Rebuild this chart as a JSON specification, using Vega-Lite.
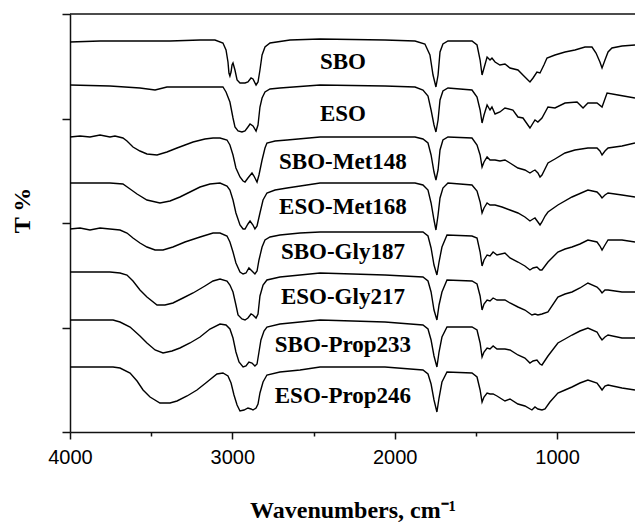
{
  "$schema": "https://vega.github.io/schema/vega-lite/v6.json",
  "width": 565,
  "height": 418,
  "autosize": {"type": "none"},
  "padding": {"left": 70, "top": 14, "right": 0, "bottom": 91},
  "background": "white",
  "config": {"view": {"stroke": null}},
  "data": {"values": [
    {"s":"SBO","w":4000,"t":390},{"s":"SBO","w":3815,"t":391},{"s":"SBO","w":3630,"t":391},{"s":"SBO","w":3384,"t":391},{"s":"SBO","w":3199,"t":392},{"s":"SBO","w":3107,"t":392},{"s":"SBO","w":3058,"t":389},{"s":"SBO","w":3039,"t":382},{"s":"SBO","w":3027,"t":370},{"s":"SBO","w":3021,"t":359},{"s":"SBO","w":3015,"t":356},{"s":"SBO","w":3008,"t":360},{"s":"SBO","w":3002,"t":367},{"s":"SBO","w":2996,"t":369},{"s":"SBO","w":2984,"t":362},{"s":"SBO","w":2971,"t":352},{"s":"SBO","w":2953,"t":349},{"s":"SBO","w":2922,"t":349},{"s":"SBO","w":2904,"t":350},{"s":"SBO","w":2885,"t":354},{"s":"SBO","w":2873,"t":353},{"s":"SBO","w":2854,"t":347},{"s":"SBO","w":2842,"t":350},{"s":"SBO","w":2830,"t":362},{"s":"SBO","w":2817,"t":377},{"s":"SBO","w":2799,"t":385},{"s":"SBO","w":2768,"t":389},{"s":"SBO","w":2645,"t":392},{"s":"SBO","w":2460,"t":393},{"s":"SBO","w":2060,"t":392},{"s":"SBO","w":1875,"t":391},{"s":"SBO","w":1814,"t":388},{"s":"SBO","w":1783,"t":377},{"s":"SBO","w":1764,"t":357},{"s":"SBO","w":1746,"t":345},{"s":"SBO","w":1733,"t":357},{"s":"SBO","w":1721,"t":380},{"s":"SBO","w":1703,"t":388},{"s":"SBO","w":1672,"t":391},{"s":"SBO","w":1524,"t":391},{"s":"SBO","w":1493,"t":387},{"s":"SBO","w":1474,"t":372},{"s":"SBO","w":1462,"t":357},{"s":"SBO","w":1450,"t":364},{"s":"SBO","w":1431,"t":375},{"s":"SBO","w":1413,"t":372},{"s":"SBO","w":1401,"t":374},{"s":"SBO","w":1382,"t":370},{"s":"SBO","w":1352,"t":367},{"s":"SBO","w":1321,"t":368},{"s":"SBO","w":1290,"t":364},{"s":"SBO","w":1241,"t":362},{"s":"SBO","w":1198,"t":355},{"s":"SBO","w":1167,"t":350},{"s":"SBO","w":1148,"t":354},{"s":"SBO","w":1124,"t":360},{"s":"SBO","w":1105,"t":359},{"s":"SBO","w":1081,"t":367},{"s":"SBO","w":1062,"t":374},{"s":"SBO","w":1013,"t":377},{"s":"SBO","w":951,"t":380},{"s":"SBO","w":890,"t":382},{"s":"SBO","w":828,"t":385},{"s":"SBO","w":785,"t":385},{"s":"SBO","w":760,"t":379},{"s":"SBO","w":736,"t":370},{"s":"SBO","w":723,"t":364},{"s":"SBO","w":705,"t":372},{"s":"SBO","w":686,"t":380},{"s":"SBO","w":662,"t":384},{"s":"SBO","w":600,"t":386},{"s":"SBO","w":520,"t":387},
    {"s":"ESO","w":4000,"t":347},{"s":"ESO","w":3754,"t":346},{"s":"ESO","w":3569,"t":344},{"s":"ESO","w":3476,"t":342},{"s":"ESO","w":3403,"t":345},{"s":"ESO","w":3199,"t":345},{"s":"ESO","w":3058,"t":345},{"s":"ESO","w":3039,"t":340},{"s":"ESO","w":3027,"t":335},{"s":"ESO","w":3015,"t":330},{"s":"ESO","w":2996,"t":314},{"s":"ESO","w":2984,"t":305},{"s":"ESO","w":2965,"t":301},{"s":"ESO","w":2941,"t":300},{"s":"ESO","w":2922,"t":301},{"s":"ESO","w":2904,"t":305},{"s":"ESO","w":2891,"t":308},{"s":"ESO","w":2873,"t":306},{"s":"ESO","w":2854,"t":301},{"s":"ESO","w":2842,"t":307},{"s":"ESO","w":2830,"t":325},{"s":"ESO","w":2817,"t":334},{"s":"ESO","w":2799,"t":340},{"s":"ESO","w":2768,"t":343},{"s":"ESO","w":2707,"t":344},{"s":"ESO","w":2460,"t":347},{"s":"ESO","w":2060,"t":346},{"s":"ESO","w":1875,"t":345},{"s":"ESO","w":1826,"t":342},{"s":"ESO","w":1795,"t":336},{"s":"ESO","w":1776,"t":322},{"s":"ESO","w":1758,"t":307},{"s":"ESO","w":1746,"t":300},{"s":"ESO","w":1733,"t":312},{"s":"ESO","w":1721,"t":332},{"s":"ESO","w":1703,"t":341},{"s":"ESO","w":1672,"t":344},{"s":"ESO","w":1524,"t":342},{"s":"ESO","w":1493,"t":335},{"s":"ESO","w":1474,"t":322},{"s":"ESO","w":1462,"t":309},{"s":"ESO","w":1450,"t":317},{"s":"ESO","w":1431,"t":327},{"s":"ESO","w":1413,"t":322},{"s":"ESO","w":1401,"t":325},{"s":"ESO","w":1382,"t":318},{"s":"ESO","w":1352,"t":320},{"s":"ESO","w":1321,"t":324},{"s":"ESO","w":1272,"t":322},{"s":"ESO","w":1241,"t":315},{"s":"ESO","w":1210,"t":314},{"s":"ESO","w":1167,"t":304},{"s":"ESO","w":1136,"t":312},{"s":"ESO","w":1118,"t":310},{"s":"ESO","w":1093,"t":314},{"s":"ESO","w":1056,"t":325},{"s":"ESO","w":1013,"t":324},{"s":"ESO","w":951,"t":329},{"s":"ESO","w":877,"t":330},{"s":"ESO","w":840,"t":324},{"s":"ESO","w":810,"t":329},{"s":"ESO","w":754,"t":329},{"s":"ESO","w":723,"t":325},{"s":"ESO","w":692,"t":339},{"s":"ESO","w":625,"t":337},{"s":"ESO","w":520,"t":334},
    {"s":"SBO-Met148","w":4000,"t":295},{"s":"SBO-Met148","w":3938,"t":296},{"s":"SBO-Met148","w":3877,"t":295},{"s":"SBO-Met148","w":3815,"t":297},{"s":"SBO-Met148","w":3754,"t":295},{"s":"SBO-Met148","w":3723,"t":296},{"s":"SBO-Met148","w":3674,"t":294},{"s":"SBO-Met148","w":3649,"t":291},{"s":"SBO-Met148","w":3612,"t":285},{"s":"SBO-Met148","w":3569,"t":281},{"s":"SBO-Met148","w":3526,"t":278},{"s":"SBO-Met148","w":3464,"t":277},{"s":"SBO-Met148","w":3403,"t":280},{"s":"SBO-Met148","w":3341,"t":284},{"s":"SBO-Met148","w":3242,"t":290},{"s":"SBO-Met148","w":3169,"t":293},{"s":"SBO-Met148","w":3119,"t":294},{"s":"SBO-Met148","w":3076,"t":294},{"s":"SBO-Met148","w":3033,"t":292},{"s":"SBO-Met148","w":3015,"t":287},{"s":"SBO-Met148","w":2996,"t":277},{"s":"SBO-Met148","w":2978,"t":264},{"s":"SBO-Met148","w":2953,"t":255},{"s":"SBO-Met148","w":2934,"t":251},{"s":"SBO-Met148","w":2922,"t":250},{"s":"SBO-Met148","w":2904,"t":254},{"s":"SBO-Met148","w":2879,"t":259},{"s":"SBO-Met148","w":2867,"t":256},{"s":"SBO-Met148","w":2848,"t":250},{"s":"SBO-Met148","w":2836,"t":257},{"s":"SBO-Met148","w":2817,"t":272},{"s":"SBO-Met148","w":2799,"t":284},{"s":"SBO-Met148","w":2787,"t":289},{"s":"SBO-Met148","w":2737,"t":291},{"s":"SBO-Met148","w":2663,"t":292},{"s":"SBO-Met148","w":2460,"t":295},{"s":"SBO-Met148","w":2060,"t":295},{"s":"SBO-Met148","w":1875,"t":295},{"s":"SBO-Met148","w":1826,"t":293},{"s":"SBO-Met148","w":1795,"t":289},{"s":"SBO-Met148","w":1776,"t":277},{"s":"SBO-Met148","w":1758,"t":260},{"s":"SBO-Met148","w":1746,"t":252},{"s":"SBO-Met148","w":1733,"t":262},{"s":"SBO-Met148","w":1721,"t":282},{"s":"SBO-Met148","w":1703,"t":292},{"s":"SBO-Met148","w":1672,"t":295},{"s":"SBO-Met148","w":1524,"t":294},{"s":"SBO-Met148","w":1493,"t":287},{"s":"SBO-Met148","w":1474,"t":277},{"s":"SBO-Met148","w":1462,"t":265},{"s":"SBO-Met148","w":1450,"t":270},{"s":"SBO-Met148","w":1431,"t":275},{"s":"SBO-Met148","w":1413,"t":272},{"s":"SBO-Met148","w":1382,"t":272},{"s":"SBO-Met148","w":1352,"t":271},{"s":"SBO-Met148","w":1321,"t":272},{"s":"SBO-Met148","w":1290,"t":269},{"s":"SBO-Met148","w":1241,"t":264},{"s":"SBO-Met148","w":1198,"t":262},{"s":"SBO-Met148","w":1167,"t":259},{"s":"SBO-Met148","w":1148,"t":261},{"s":"SBO-Met148","w":1136,"t":262},{"s":"SBO-Met148","w":1118,"t":259},{"s":"SBO-Met148","w":1105,"t":255},{"s":"SBO-Met148","w":1093,"t":257},{"s":"SBO-Met148","w":1056,"t":269},{"s":"SBO-Met148","w":1013,"t":273},{"s":"SBO-Met148","w":951,"t":279},{"s":"SBO-Met148","w":890,"t":282},{"s":"SBO-Met148","w":810,"t":284},{"s":"SBO-Met148","w":754,"t":284},{"s":"SBO-Met148","w":736,"t":281},{"s":"SBO-Met148","w":723,"t":277},{"s":"SBO-Met148","w":705,"t":281},{"s":"SBO-Met148","w":686,"t":284},{"s":"SBO-Met148","w":600,"t":286},{"s":"SBO-Met148","w":520,"t":289},
    {"s":"ESO-Met168","w":4000,"t":249},{"s":"ESO-Met168","w":3754,"t":249},{"s":"ESO-Met168","w":3674,"t":248},{"s":"ESO-Met168","w":3630,"t":243},{"s":"ESO-Met168","w":3587,"t":238},{"s":"ESO-Met168","w":3526,"t":232},{"s":"ESO-Met168","w":3446,"t":229},{"s":"ESO-Met168","w":3384,"t":231},{"s":"ESO-Met168","w":3323,"t":235},{"s":"ESO-Met168","w":3261,"t":240},{"s":"ESO-Met168","w":3199,"t":245},{"s":"ESO-Met168","w":3138,"t":248},{"s":"ESO-Met168","w":3076,"t":249},{"s":"ESO-Met168","w":3033,"t":246},{"s":"ESO-Met168","w":3015,"t":242},{"s":"ESO-Met168","w":2996,"t":232},{"s":"ESO-Met168","w":2978,"t":219},{"s":"ESO-Met168","w":2953,"t":207},{"s":"ESO-Met168","w":2934,"t":203},{"s":"ESO-Met168","w":2922,"t":203},{"s":"ESO-Met168","w":2904,"t":208},{"s":"ESO-Met168","w":2891,"t":211},{"s":"ESO-Met168","w":2873,"t":207},{"s":"ESO-Met168","w":2861,"t":203},{"s":"ESO-Met168","w":2848,"t":206},{"s":"ESO-Met168","w":2830,"t":219},{"s":"ESO-Met168","w":2811,"t":232},{"s":"ESO-Met168","w":2787,"t":239},{"s":"ESO-Met168","w":2737,"t":242},{"s":"ESO-Met168","w":2663,"t":244},{"s":"ESO-Met168","w":2460,"t":249},{"s":"ESO-Met168","w":2060,"t":249},{"s":"ESO-Met168","w":1875,"t":249},{"s":"ESO-Met168","w":1826,"t":247},{"s":"ESO-Met168","w":1795,"t":242},{"s":"ESO-Met168","w":1776,"t":229},{"s":"ESO-Met168","w":1758,"t":212},{"s":"ESO-Met168","w":1746,"t":202},{"s":"ESO-Met168","w":1733,"t":217},{"s":"ESO-Met168","w":1721,"t":234},{"s":"ESO-Met168","w":1703,"t":244},{"s":"ESO-Met168","w":1672,"t":249},{"s":"ESO-Met168","w":1524,"t":247},{"s":"ESO-Met168","w":1493,"t":241},{"s":"ESO-Met168","w":1474,"t":230},{"s":"ESO-Met168","w":1462,"t":219},{"s":"ESO-Met168","w":1450,"t":224},{"s":"ESO-Met168","w":1431,"t":229},{"s":"ESO-Met168","w":1413,"t":227},{"s":"ESO-Met168","w":1382,"t":227},{"s":"ESO-Met168","w":1339,"t":225},{"s":"ESO-Met168","w":1290,"t":222},{"s":"ESO-Met168","w":1241,"t":219},{"s":"ESO-Met168","w":1198,"t":215},{"s":"ESO-Met168","w":1167,"t":211},{"s":"ESO-Met168","w":1148,"t":213},{"s":"ESO-Met168","w":1136,"t":214},{"s":"ESO-Met168","w":1118,"t":210},{"s":"ESO-Met168","w":1105,"t":207},{"s":"ESO-Met168","w":1093,"t":210},{"s":"ESO-Met168","w":1074,"t":216},{"s":"ESO-Met168","w":1056,"t":220},{"s":"ESO-Met168","w":995,"t":227},{"s":"ESO-Met168","w":908,"t":235},{"s":"ESO-Met168","w":810,"t":242},{"s":"ESO-Met168","w":754,"t":240},{"s":"ESO-Met168","w":736,"t":237},{"s":"ESO-Met168","w":723,"t":234},{"s":"ESO-Met168","w":705,"t":237},{"s":"ESO-Met168","w":686,"t":239},{"s":"ESO-Met168","w":600,"t":237},{"s":"ESO-Met168","w":520,"t":235},
    {"s":"SBO-Gly187","w":4000,"t":203},{"s":"SBO-Gly187","w":3938,"t":204},{"s":"SBO-Gly187","w":3877,"t":202},{"s":"SBO-Gly187","w":3815,"t":204},{"s":"SBO-Gly187","w":3754,"t":203},{"s":"SBO-Gly187","w":3692,"t":202},{"s":"SBO-Gly187","w":3649,"t":199},{"s":"SBO-Gly187","w":3612,"t":194},{"s":"SBO-Gly187","w":3569,"t":189},{"s":"SBO-Gly187","w":3526,"t":185},{"s":"SBO-Gly187","w":3476,"t":182},{"s":"SBO-Gly187","w":3427,"t":182},{"s":"SBO-Gly187","w":3366,"t":185},{"s":"SBO-Gly187","w":3292,"t":190},{"s":"SBO-Gly187","w":3199,"t":195},{"s":"SBO-Gly187","w":3119,"t":199},{"s":"SBO-Gly187","w":3076,"t":199},{"s":"SBO-Gly187","w":3033,"t":196},{"s":"SBO-Gly187","w":3015,"t":190},{"s":"SBO-Gly187","w":2996,"t":180},{"s":"SBO-Gly187","w":2978,"t":169},{"s":"SBO-Gly187","w":2953,"t":160},{"s":"SBO-Gly187","w":2934,"t":158},{"s":"SBO-Gly187","w":2916,"t":159},{"s":"SBO-Gly187","w":2898,"t":164},{"s":"SBO-Gly187","w":2879,"t":161},{"s":"SBO-Gly187","w":2861,"t":158},{"s":"SBO-Gly187","w":2848,"t":161},{"s":"SBO-Gly187","w":2836,"t":172},{"s":"SBO-Gly187","w":2817,"t":185},{"s":"SBO-Gly187","w":2799,"t":192},{"s":"SBO-Gly187","w":2768,"t":195},{"s":"SBO-Gly187","w":2707,"t":197},{"s":"SBO-Gly187","w":2583,"t":199},{"s":"SBO-Gly187","w":2460,"t":200},{"s":"SBO-Gly187","w":2060,"t":200},{"s":"SBO-Gly187","w":1826,"t":200},{"s":"SBO-Gly187","w":1795,"t":196},{"s":"SBO-Gly187","w":1776,"t":184},{"s":"SBO-Gly187","w":1758,"t":167},{"s":"SBO-Gly187","w":1740,"t":157},{"s":"SBO-Gly187","w":1727,"t":170},{"s":"SBO-Gly187","w":1709,"t":185},{"s":"SBO-Gly187","w":1678,"t":197},{"s":"SBO-Gly187","w":1524,"t":196},{"s":"SBO-Gly187","w":1493,"t":194},{"s":"SBO-Gly187","w":1474,"t":180},{"s":"SBO-Gly187","w":1462,"t":166},{"s":"SBO-Gly187","w":1450,"t":172},{"s":"SBO-Gly187","w":1431,"t":177},{"s":"SBO-Gly187","w":1413,"t":176},{"s":"SBO-Gly187","w":1394,"t":180},{"s":"SBO-Gly187","w":1370,"t":177},{"s":"SBO-Gly187","w":1321,"t":179},{"s":"SBO-Gly187","w":1290,"t":174},{"s":"SBO-Gly187","w":1241,"t":170},{"s":"SBO-Gly187","w":1198,"t":166},{"s":"SBO-Gly187","w":1167,"t":162},{"s":"SBO-Gly187","w":1148,"t":164},{"s":"SBO-Gly187","w":1124,"t":165},{"s":"SBO-Gly187","w":1105,"t":162},{"s":"SBO-Gly187","w":1093,"t":162},{"s":"SBO-Gly187","w":1056,"t":170},{"s":"SBO-Gly187","w":995,"t":180},{"s":"SBO-Gly187","w":951,"t":183},{"s":"SBO-Gly187","w":908,"t":185},{"s":"SBO-Gly187","w":859,"t":188},{"s":"SBO-Gly187","w":810,"t":192},{"s":"SBO-Gly187","w":754,"t":190},{"s":"SBO-Gly187","w":736,"t":186},{"s":"SBO-Gly187","w":723,"t":182},{"s":"SBO-Gly187","w":705,"t":187},{"s":"SBO-Gly187","w":686,"t":192},{"s":"SBO-Gly187","w":600,"t":192},{"s":"SBO-Gly187","w":520,"t":190},
    {"s":"ESO-Gly217","w":4000,"t":160},{"s":"ESO-Gly217","w":3754,"t":160},{"s":"ESO-Gly217","w":3692,"t":159},{"s":"ESO-Gly217","w":3649,"t":157},{"s":"ESO-Gly217","w":3612,"t":151},{"s":"ESO-Gly217","w":3569,"t":142},{"s":"ESO-Gly217","w":3526,"t":135},{"s":"ESO-Gly217","w":3464,"t":127},{"s":"ESO-Gly217","w":3415,"t":127},{"s":"ESO-Gly217","w":3366,"t":129},{"s":"ESO-Gly217","w":3304,"t":134},{"s":"ESO-Gly217","w":3242,"t":139},{"s":"ESO-Gly217","w":3169,"t":146},{"s":"ESO-Gly217","w":3119,"t":151},{"s":"ESO-Gly217","w":3076,"t":153},{"s":"ESO-Gly217","w":3033,"t":151},{"s":"ESO-Gly217","w":3015,"t":147},{"s":"ESO-Gly217","w":2996,"t":140},{"s":"ESO-Gly217","w":2978,"t":127},{"s":"ESO-Gly217","w":2965,"t":117},{"s":"ESO-Gly217","w":2941,"t":113},{"s":"ESO-Gly217","w":2922,"t":112},{"s":"ESO-Gly217","w":2904,"t":114},{"s":"ESO-Gly217","w":2885,"t":118},{"s":"ESO-Gly217","w":2873,"t":117},{"s":"ESO-Gly217","w":2854,"t":114},{"s":"ESO-Gly217","w":2842,"t":118},{"s":"ESO-Gly217","w":2830,"t":136},{"s":"ESO-Gly217","w":2811,"t":147},{"s":"ESO-Gly217","w":2787,"t":152},{"s":"ESO-Gly217","w":2707,"t":155},{"s":"ESO-Gly217","w":2583,"t":157},{"s":"ESO-Gly217","w":2460,"t":159},{"s":"ESO-Gly217","w":2060,"t":157},{"s":"ESO-Gly217","w":1826,"t":155},{"s":"ESO-Gly217","w":1795,"t":151},{"s":"ESO-Gly217","w":1776,"t":140},{"s":"ESO-Gly217","w":1758,"t":122},{"s":"ESO-Gly217","w":1740,"t":112},{"s":"ESO-Gly217","w":1727,"t":127},{"s":"ESO-Gly217","w":1709,"t":140},{"s":"ESO-Gly217","w":1678,"t":152},{"s":"ESO-Gly217","w":1524,"t":151},{"s":"ESO-Gly217","w":1493,"t":148},{"s":"ESO-Gly217","w":1474,"t":136},{"s":"ESO-Gly217","w":1462,"t":122},{"s":"ESO-Gly217","w":1450,"t":128},{"s":"ESO-Gly217","w":1431,"t":132},{"s":"ESO-Gly217","w":1413,"t":131},{"s":"ESO-Gly217","w":1394,"t":134},{"s":"ESO-Gly217","w":1370,"t":132},{"s":"ESO-Gly217","w":1321,"t":132},{"s":"ESO-Gly217","w":1290,"t":129},{"s":"ESO-Gly217","w":1241,"t":125},{"s":"ESO-Gly217","w":1198,"t":122},{"s":"ESO-Gly217","w":1155,"t":117},{"s":"ESO-Gly217","w":1136,"t":118},{"s":"ESO-Gly217","w":1118,"t":117},{"s":"ESO-Gly217","w":1093,"t":118},{"s":"ESO-Gly217","w":1056,"t":120},{"s":"ESO-Gly217","w":995,"t":135},{"s":"ESO-Gly217","w":951,"t":138},{"s":"ESO-Gly217","w":908,"t":140},{"s":"ESO-Gly217","w":859,"t":144},{"s":"ESO-Gly217","w":810,"t":149},{"s":"ESO-Gly217","w":754,"t":145},{"s":"ESO-Gly217","w":736,"t":142},{"s":"ESO-Gly217","w":723,"t":139},{"s":"ESO-Gly217","w":705,"t":142},{"s":"ESO-Gly217","w":686,"t":142},{"s":"ESO-Gly217","w":600,"t":140},{"s":"ESO-Gly217","w":520,"t":140},
    {"s":"SBO-Prop233","w":4000,"t":112},{"s":"SBO-Prop233","w":3735,"t":112},{"s":"SBO-Prop233","w":3692,"t":110},{"s":"SBO-Prop233","w":3630,"t":105},{"s":"SBO-Prop233","w":3569,"t":96},{"s":"SBO-Prop233","w":3526,"t":89},{"s":"SBO-Prop233","w":3476,"t":82},{"s":"SBO-Prop233","w":3427,"t":79},{"s":"SBO-Prop233","w":3372,"t":81},{"s":"SBO-Prop233","w":3323,"t":84},{"s":"SBO-Prop233","w":3261,"t":89},{"s":"SBO-Prop233","w":3199,"t":95},{"s":"SBO-Prop233","w":3138,"t":103},{"s":"SBO-Prop233","w":3076,"t":108},{"s":"SBO-Prop233","w":3039,"t":107},{"s":"SBO-Prop233","w":3015,"t":103},{"s":"SBO-Prop233","w":2996,"t":94},{"s":"SBO-Prop233","w":2978,"t":80},{"s":"SBO-Prop233","w":2959,"t":70},{"s":"SBO-Prop233","w":2934,"t":65},{"s":"SBO-Prop233","w":2916,"t":66},{"s":"SBO-Prop233","w":2898,"t":70},{"s":"SBO-Prop233","w":2879,"t":69},{"s":"SBO-Prop233","w":2861,"t":66},{"s":"SBO-Prop233","w":2848,"t":68},{"s":"SBO-Prop233","w":2836,"t":80},{"s":"SBO-Prop233","w":2824,"t":92},{"s":"SBO-Prop233","w":2805,"t":101},{"s":"SBO-Prop233","w":2787,"t":105},{"s":"SBO-Prop233","w":2707,"t":108},{"s":"SBO-Prop233","w":2583,"t":110},{"s":"SBO-Prop233","w":2460,"t":112},{"s":"SBO-Prop233","w":2060,"t":110},{"s":"SBO-Prop233","w":1826,"t":107},{"s":"SBO-Prop233","w":1795,"t":103},{"s":"SBO-Prop233","w":1776,"t":92},{"s":"SBO-Prop233","w":1758,"t":76},{"s":"SBO-Prop233","w":1740,"t":65},{"s":"SBO-Prop233","w":1727,"t":80},{"s":"SBO-Prop233","w":1709,"t":95},{"s":"SBO-Prop233","w":1678,"t":105},{"s":"SBO-Prop233","w":1524,"t":105},{"s":"SBO-Prop233","w":1493,"t":102},{"s":"SBO-Prop233","w":1474,"t":89},{"s":"SBO-Prop233","w":1462,"t":75},{"s":"SBO-Prop233","w":1450,"t":80},{"s":"SBO-Prop233","w":1431,"t":84},{"s":"SBO-Prop233","w":1413,"t":83},{"s":"SBO-Prop233","w":1394,"t":86},{"s":"SBO-Prop233","w":1370,"t":83},{"s":"SBO-Prop233","w":1321,"t":83},{"s":"SBO-Prop233","w":1290,"t":82},{"s":"SBO-Prop233","w":1241,"t":77},{"s":"SBO-Prop233","w":1198,"t":74},{"s":"SBO-Prop233","w":1167,"t":69},{"s":"SBO-Prop233","w":1148,"t":71},{"s":"SBO-Prop233","w":1124,"t":72},{"s":"SBO-Prop233","w":1105,"t":68},{"s":"SBO-Prop233","w":1093,"t":67},{"s":"SBO-Prop233","w":1056,"t":76},{"s":"SBO-Prop233","w":995,"t":89},{"s":"SBO-Prop233","w":951,"t":93},{"s":"SBO-Prop233","w":908,"t":97},{"s":"SBO-Prop233","w":859,"t":101},{"s":"SBO-Prop233","w":810,"t":104},{"s":"SBO-Prop233","w":754,"t":100},{"s":"SBO-Prop233","w":736,"t":95},{"s":"SBO-Prop233","w":723,"t":92},{"s":"SBO-Prop233","w":705,"t":95},{"s":"SBO-Prop233","w":686,"t":97},{"s":"SBO-Prop233","w":600,"t":94},{"s":"SBO-Prop233","w":520,"t":94},
    {"s":"ESO-Prop246","w":4000,"t":65},{"s":"ESO-Prop246","w":3735,"t":65},{"s":"ESO-Prop246","w":3692,"t":64},{"s":"ESO-Prop246","w":3630,"t":59},{"s":"ESO-Prop246","w":3587,"t":51},{"s":"ESO-Prop246","w":3550,"t":42},{"s":"ESO-Prop246","w":3507,"t":35},{"s":"ESO-Prop246","w":3446,"t":29},{"s":"ESO-Prop246","w":3384,"t":29},{"s":"ESO-Prop246","w":3341,"t":31},{"s":"ESO-Prop246","w":3279,"t":36},{"s":"ESO-Prop246","w":3218,"t":42},{"s":"ESO-Prop246","w":3156,"t":50},{"s":"ESO-Prop246","w":3095,"t":58},{"s":"ESO-Prop246","w":3058,"t":59},{"s":"ESO-Prop246","w":3027,"t":56},{"s":"ESO-Prop246","w":3008,"t":49},{"s":"ESO-Prop246","w":2990,"t":37},{"s":"ESO-Prop246","w":2971,"t":27},{"s":"ESO-Prop246","w":2953,"t":21},{"s":"ESO-Prop246","w":2928,"t":22},{"s":"ESO-Prop246","w":2904,"t":24},{"s":"ESO-Prop246","w":2885,"t":23},{"s":"ESO-Prop246","w":2873,"t":22},{"s":"ESO-Prop246","w":2854,"t":24},{"s":"ESO-Prop246","w":2842,"t":28},{"s":"ESO-Prop246","w":2830,"t":39},{"s":"ESO-Prop246","w":2811,"t":50},{"s":"ESO-Prop246","w":2787,"t":57},{"s":"ESO-Prop246","w":2707,"t":60},{"s":"ESO-Prop246","w":2583,"t":62},{"s":"ESO-Prop246","w":2460,"t":65},{"s":"ESO-Prop246","w":2060,"t":65},{"s":"ESO-Prop246","w":1826,"t":62},{"s":"ESO-Prop246","w":1795,"t":58},{"s":"ESO-Prop246","w":1776,"t":48},{"s":"ESO-Prop246","w":1758,"t":32},{"s":"ESO-Prop246","w":1740,"t":20},{"s":"ESO-Prop246","w":1727,"t":34},{"s":"ESO-Prop246","w":1709,"t":50},{"s":"ESO-Prop246","w":1678,"t":60},{"s":"ESO-Prop246","w":1524,"t":59},{"s":"ESO-Prop246","w":1493,"t":55},{"s":"ESO-Prop246","w":1474,"t":42},{"s":"ESO-Prop246","w":1462,"t":30},{"s":"ESO-Prop246","w":1450,"t":35},{"s":"ESO-Prop246","w":1431,"t":39},{"s":"ESO-Prop246","w":1413,"t":38},{"s":"ESO-Prop246","w":1394,"t":38},{"s":"ESO-Prop246","w":1370,"t":36},{"s":"ESO-Prop246","w":1321,"t":31},{"s":"ESO-Prop246","w":1290,"t":33},{"s":"ESO-Prop246","w":1241,"t":28},{"s":"ESO-Prop246","w":1198,"t":26},{"s":"ESO-Prop246","w":1155,"t":22},{"s":"ESO-Prop246","w":1136,"t":25},{"s":"ESO-Prop246","w":1118,"t":23},{"s":"ESO-Prop246","w":1093,"t":22},{"s":"ESO-Prop246","w":1074,"t":23},{"s":"ESO-Prop246","w":1044,"t":30},{"s":"ESO-Prop246","w":995,"t":39},{"s":"ESO-Prop246","w":951,"t":42},{"s":"ESO-Prop246","w":908,"t":45},{"s":"ESO-Prop246","w":859,"t":49},{"s":"ESO-Prop246","w":810,"t":52},{"s":"ESO-Prop246","w":754,"t":49},{"s":"ESO-Prop246","w":736,"t":45},{"s":"ESO-Prop246","w":723,"t":42},{"s":"ESO-Prop246","w":705,"t":46},{"s":"ESO-Prop246","w":686,"t":47},{"s":"ESO-Prop246","w":600,"t":44},{"s":"ESO-Prop246","w":520,"t":42}
  ]},
  "layer": [
    {
      "mark": {"type": "line", "color": "black", "strokeWidth": 1.4},
      "encoding": {
        "x": {
          "field": "w", "type": "quantitative",
          "scale": {"domain": [4000, 520], "nice": false, "zero": false},
          "axis": {
            "values": [4000, 3500, 3000, 2500, 2000, 1500, 1000],
            "labelExpr": "datum.value % 1000 === 0 ? format(datum.value, 'd') : ''",
            "tickSize": {"condition": {"test": "datum.value % 1000 !== 0", "value": 4}, "value": 7},
            "grid": false,
            "domainColor": "#111", "domainWidth": 1.5,
            "tickColor": "#111", "tickWidth": 1.5,
            "labelFont": "Liberation Sans", "labelFontSize": 20, "labelColor": "black", "labelPadding": 8,
            "labelFlush": false, "labelOverlap": false,
            "title": "Wavenumbers, cm⁻¹",
            "titleFont": "Liberation Serif", "titleFontSize": 24, "titleFontWeight": "bold", "titleColor": "black",
            "titlePadding": 31
          }
        },
        "y": {
          "field": "t", "type": "quantitative",
          "scale": {"domain": [0, 418], "nice": false, "zero": false},
          "axis": {
            "values": [0, 104.5, 209, 313.5, 418],
            "labels": false, "grid": false,
            "tickSize": 8, "tickColor": "#111", "tickWidth": 1.5,
            "domainColor": "#111", "domainWidth": 1.5,
            "title": "T %",
            "titleFont": "Liberation Serif", "titleFontSize": 24, "titleFontWeight": "bold", "titleColor": "black",
            "titlePadding": 27,
            "titleY": 196
          }
        },
        "detail": {"field": "s"}
      }
    },
    {
      "data": {"values": [{"top": 418}]},
      "mark": {"type": "rule", "color": "#111", "strokeWidth": 1.5},
      "encoding": {"y": {"field": "top", "type": "quantitative"}}
    },
    {
      "data": {"values": [
        {"label": "SBO", "w": 2319, "t": 370},
        {"label": "ESO", "w": 2319, "t": 318},
        {"label": "SBO-Met148", "w": 2319, "t": 270},
        {"label": "ESO-Met168", "w": 2319, "t": 225},
        {"label": "SBO-Gly187", "w": 2319, "t": 180},
        {"label": "ESO-Gly217", "w": 2319, "t": 135},
        {"label": "SBO-Prop233", "w": 2319, "t": 87},
        {"label": "ESO-Prop246", "w": 2319, "t": 36}
      ]},
      "mark": {"type": "text", "font": "Liberation Serif", "fontSize": 23, "fontWeight": "bold", "color": "black", "align": "center", "baseline": "middle"},
      "encoding": {
        "x": {"field": "w", "type": "quantitative"},
        "y": {"field": "t", "type": "quantitative"},
        "text": {"field": "label"}
      }
    }
  ]
}
